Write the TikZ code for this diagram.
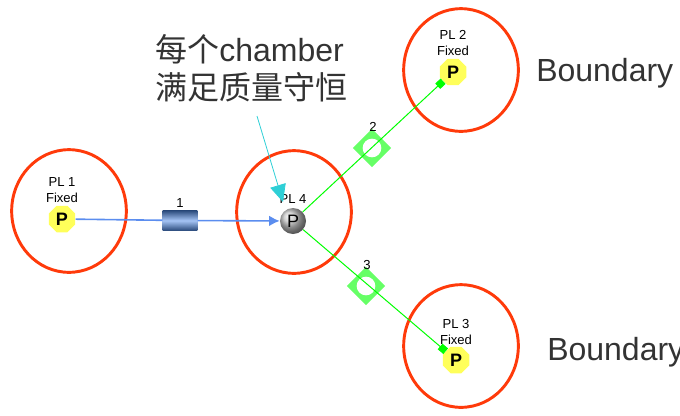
\documentclass[tikz,border=0pt]{standalone}
\usepackage{fontspec}
\setmainfont{Liberation Sans}
\newfontfamily\cjk{Noto Sans CJK SC}
\usetikzlibrary{arrows.meta,shapes.geometric}
\definecolor{ringred}{HTML}{FF3A0A}
\definecolor{fixedyellow}{HTML}{FFFF5A}
\definecolor{pipeblue}{HTML}{5B8DEF}
\definecolor{pipedark}{HTML}{2F4F80}
\definecolor{pipelight}{HTML}{A5C4F5}
\definecolor{valvegreen}{HTML}{66FF66}
\definecolor{notecyan}{HTML}{2ECFD6}
\definecolor{notegray}{HTML}{333333}
\tikzset{
  ring/.style={ellipse, draw=ringred, line width=2.2pt, minimum width=86pt, minimum height=92pt, inner sep=0pt},
  fixedp/.style={regular polygon, regular polygon sides=8, fill=fixedyellow, minimum size=21.5pt, inner sep=0pt, font=\fontsize{13.5}{13.5}\selectfont\bfseries},
  ballp/.style={circle, shading=ball, ball color=gray!45, minimum size=19.5pt, inner sep=0pt, font=\fontsize{13.5}{13.5}\selectfont},
  pllabel/.style={align=center, inner sep=0pt, font=\fontsize{9.8}{12}\selectfont},
  pipebody/.style={rectangle, minimum width=26pt, minimum height=14.5pt, inner sep=0pt, top color=pipedark, bottom color=pipedark, middle color=pipelight},
  valvebody/.style={diamond, fill=valvegreen, minimum size=29pt, inner sep=0pt},
  valvehole/.style={circle, fill=white, minimum size=14pt, inner sep=0pt},
  bignote/.style={inner sep=0pt, text=notegray, align=left, font=\fontsize{24}{28.5}\selectfont},
  blueline/.style={draw=pipeblue, line width=1.2pt},
  greenline/.style={draw=green, line width=0.75pt}
}
\begin{document}
\begin{tikzpicture}[x=0.75pt,y=-0.75pt]
    \useasboundingbox (0,0) rectangle (680,415);
    % Rings
    \node (ring1) [ring] at (69,211) {};
    \node (ring2) [ring] at (461,70) {};
    \node (ring3) [ring] at (461,346) {};
    \node (ring4) [ring] at (294,212) {};

    % Pressure nodes
    \node (pl1) [fixedp] at (62,219) {P};
    \node (pl2) [fixedp] at (453,72) {P};
    \node (pl3) [fixedp] at (456,360) {P};
    \node (pl4) [ballp] at (293,221) {P};
    \node (label1) [pllabel] at (62,190) {PL 1\\Fixed};
    \node (label2) [pllabel] at (453,43) {PL 2\\Fixed};
    \node (label3) [pllabel] at (456,332) {PL 3\\Fixed};
    \node (label4) [pllabel] at (293,199) {PL 4};

    % Pipe and valves
    \node (pipe1) [pipebody] at (180,220.5) {};
    \node (valve2) [valvebody] at (372,148) {};
    \node (hole2) [valvehole] at (372,148) {};
    \node (valve3) [valvebody] at (366,286) {};
    \node (hole3) [valvehole] at (366,286) {};
    \node (num1) [pllabel] at (180,203) {1};
    \node (num2) [pllabel] at (373,127) {2};
    \node (num3) [pllabel] at (367,265) {3};

    % Texts
    \node (note) [bignote, anchor=west] at (155,68) {{\cjk 每个}chamber\\{\cjk 满足质量守恒}};
    \node (bound2) [bignote, anchor=west] at (536,73) {Boundary};
    \node (bound3) [bignote, anchor=west] at (547,352) {Boundary};
    \coordinate (notefoot) at (257,116);
    \coordinate (notetip) at (283,202);

    % Edges
    \draw[blueline] (pl1) -- (pipe1);
    \draw[blueline, -{Latex[length=8pt,width=8pt]}] (pipe1) -- (pl4);
    \draw[greenline, -{Square[length=5.5pt,width=5.5pt]}] (pl4) -- (pl2);
    \draw[greenline, -{Square[length=5.5pt,width=5.5pt]}] (pl4) -- (pl3);
    \draw[notecyan, line width=0.6pt, -{Triangle[length=13pt,width=12pt]}] (notefoot) -- (notetip);
\end{tikzpicture}
\end{document}
